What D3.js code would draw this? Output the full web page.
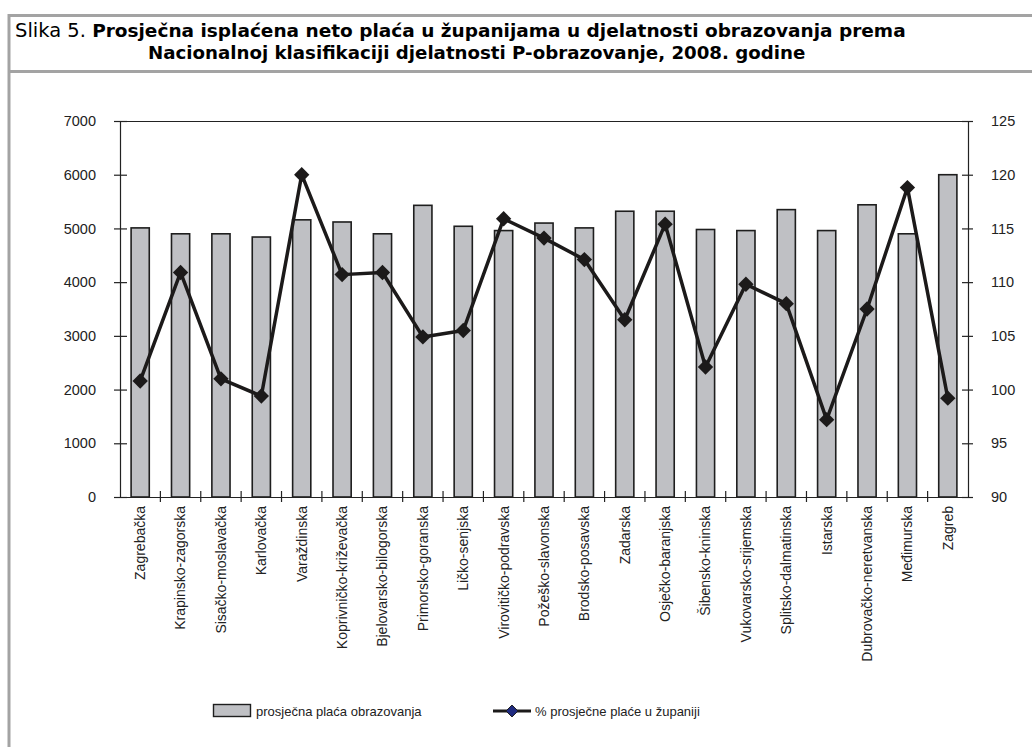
<!DOCTYPE html>
<html>
<head>
<meta charset="utf-8">
<script src="https://cdn.jsdelivr.net/npm/d3@7"></script>
<style>
  body { margin: 0; background: #fff; }
  svg text { font-family: "Liberation Sans", Arial, sans-serif; }
</style>
</head>
<body>
<div id="chart"></div>
<script>
var zupanije = ["Zagrebačka", "Krapinsko-zagorska", "Sisačko-moslavačka", "Karlovačka", "Varaždinska",
  "Koprivničko-križevačka", "Bjelovarsko-bilogorska", "Primorsko-goranska", "Ličko-senjska",
  "Virovitičko-podravska", "Požeško-slavonska", "Brodsko-posavska", "Zadarska", "Osječko-baranjska",
  "Šibensko-kninska", "Vukovarsko-srijemska", "Splitsko-dalmatinska", "Istarska",
  "Dubrovačko-neretvanska", "Međimurska", "Zagreb"];
var placaObrazovanja = [5010, 4900, 4900, 4840, 5160, 5120, 4900, 5430, 5040, 4960, 5100,
  5010, 5320, 5320, 4980, 4960, 5350, 4960, 5440, 4900, 6000];
var postotakPlace = [100.8, 110.9, 101.0, 99.4, 120.0, 110.7, 110.9, 104.9, 105.5, 115.9, 114.1,
  112.1, 106.5, 115.4, 102.1, 109.8, 108.0, 97.2, 107.5, 118.8, 99.2];
var lijeviTicks = [0, 1000, 2000, 3000, 4000, 5000, 6000, 7000];
var desniTicks = [90, 95, 100, 105, 110, 115, 120, 125];
var legendaNazivi = ["prosječna plaća obrazovanja", "% prosječne plaće u županiji"];

var W = 1032, H = 747,
  margin = {top: 121, right: 64, bottom: 250, left: 120},
  width = W - margin.left - margin.right,
  height = H - margin.top - margin.bottom;

var svg = d3.select("#chart").append("svg")
  .attr("width", W)
  .attr("height", H);

// okvir slike
var frame = svg.append("g").attr("stroke", "#a3a3a3").attr("stroke-width", 3);
frame.append("line").attr("x1", 8).attr("x2", W).attr("y1", 15.5).attr("y2", 15.5);
frame.append("line").attr("x1", 8).attr("x2", W).attr("y1", 71.5).attr("y2", 71.5);
frame.append("line").attr("x1", 9).attr("x2", 9).attr("y1", 14).attr("y2", H);

var title = svg.append("text").attr("x", 15).attr("y", 37).attr("fill", "#000")
  .style("font-family", "'DejaVu Sans', sans-serif");
title.append("tspan").style("font-size", "19.5px").text("Slika 5. ");
title.append("tspan").style("font-weight", "bold").style("font-size", "18.5px")
  .text("Prosječna isplaćena neto plaća u županijama u djelatnosti obrazovanja prema");
svg.append("text").attr("x", 148).attr("y", 59)
  .style("font-weight", "bold").style("font-family", "'DejaVu Sans', sans-serif")
  .style("font-size", "18.2px").attr("fill", "#000")
  .text("Nacionalnoj klasifikaciji djelatnosti P-obrazovanje, 2008. godine");

var g = svg.append("g").attr("transform", "translate(" + margin.left + "," + margin.top + ")");

var x = d3.scaleBand().domain(zupanije).range([0, width]).paddingInner(0.55).paddingOuter(0.275);
var xb = d3.scaleBand().domain(zupanije).range([0, width]);
var y = d3.scaleLinear().domain([0, 7000]).range([height, 0]);
var y2 = d3.scaleLinear().domain([90, 125]).range([height, 0]);

// gornji rub
g.append("line").attr("x1", 0).attr("x2", width).attr("y1", 0.5).attr("y2", 0.5)
  .attr("stroke", "#222").attr("stroke-width", 1.2);

g.selectAll(".bar")
  .data(placaObrazovanja)
  .enter().append("rect")
    .attr("class", "bar")
    .attr("x", function(d, i) { return x(zupanije[i]); })
    .attr("y", function(d) { return y(d); })
    .attr("width", x.bandwidth())
    .attr("height", function(d) { return height - y(d); })
    .attr("fill", "#bfc0c4")
    .attr("stroke", "#1e1e1e")
    .attr("stroke-width", 1.6);

var line = d3.line()
  .x(function(d, i) { return xb(zupanije[i]) + xb.bandwidth() / 2; })
  .y(function(d) { return y2(d); });

g.append("path")
  .datum(postotakPlace)
  .attr("fill", "none")
  .attr("stroke", "#1c1a1a")
  .attr("stroke-width", 3.5)
  .attr("stroke-linejoin", "round")
  .attr("d", line);

var diamond = d3.symbol().type(d3.symbolDiamond2).size(150);
g.selectAll(".marker")
  .data(postotakPlace)
  .enter().append("path")
    .attr("class", "marker")
    .attr("transform", function(d, i) { return "translate(" + (xb(zupanije[i]) + xb.bandwidth() / 2) + "," + y2(d) + ")"; })
    .attr("d", diamond)
    .attr("fill", "#1c1a1a");

// osi
function styleAxis(sel) {
  sel.select(".domain").attr("stroke", "#222").attr("stroke-width", 1.2);
  sel.selectAll(".tick line").attr("stroke", "#222").attr("stroke-width", 1.2);
  sel.selectAll(".tick text").attr("fill", "#222").style("font-size", "14.5px");
}

var yAxis = g.append("g")
  .call(d3.axisLeft(y).tickValues(lijeviTicks).tickFormat(d3.format("d"))
    .tickSizeInner(6).tickSizeOuter(0).tickPadding(18));
yAxis.selectAll(".tick line").attr("x2", 7).attr("x1", -6);
styleAxis(yAxis);

var y2Axis = g.append("g")
  .attr("transform", "translate(" + width + ",0)")
  .call(d3.axisRight(y2).tickValues(desniTicks).tickSizeOuter(0).tickPadding(17));
y2Axis.selectAll(".tick line").attr("x1", -6).attr("x2", 5);
styleAxis(y2Axis);

var xAxis = g.append("g")
  .attr("transform", "translate(0," + height + ")")
  .call(d3.axisBottom(xb).tickSize(0).tickSizeOuter(0));
styleAxis(xAxis);
xAxis.selectAll(".tick text")
  .attr("transform", "rotate(-90)")
  .attr("x", -9)
  .attr("y", 0)
  .attr("dy", "0.35em")
  .style("text-anchor", "end")
  .style("font-size", "14px");

// crtice izmedu kategorija
g.selectAll(".xtick")
  .data(zupanije.slice(1))
  .enter().append("line")
    .attr("x1", function(d) { return xb(d); })
    .attr("x2", function(d) { return xb(d); })
    .attr("y1", height - 6)
    .attr("y2", height + 5)
    .attr("stroke", "#222")
    .attr("stroke-width", 1.2);

// legenda
var leg = svg.append("g").attr("transform", "translate(0,711)");
leg.append("rect").attr("x", 213.5).attr("y", -6.5).attr("width", 37).attr("height", 12)
  .attr("fill", "#bfc0c4").attr("stroke", "#1e1e1e").attr("stroke-width", 1.4);
leg.append("text").attr("x", 256).attr("y", 0).attr("dy", "0.35em")
  .style("font-size", "13px").attr("fill", "#222").text(legendaNazivi[0]);
leg.append("line").attr("x1", 493).attr("x2", 531).attr("y1", 0).attr("y2", 0)
  .attr("stroke", "#1c1a1a").attr("stroke-width", 3);
leg.append("path").attr("transform", "translate(512,0)")
  .attr("d", d3.symbol().type(d3.symbolDiamond2).size(90))
  .attr("fill", "#1f2a80").attr("stroke", "#1c1a1a").attr("stroke-width", 1);
leg.append("text").attr("x", 535).attr("y", 0).attr("dy", "0.35em")
  .style("font-size", "13px").attr("fill", "#222").text(legendaNazivi[1]);
</script>
</body>
</html>
